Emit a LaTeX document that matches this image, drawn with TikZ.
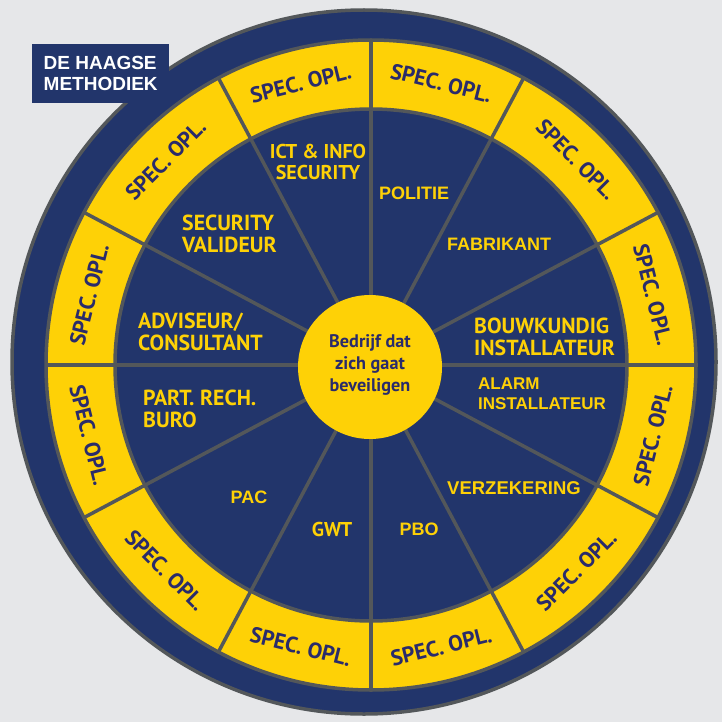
\documentclass[tikz,border=0pt]{standalone}
\usepackage{fontspec}
\newfontfamily\myr{PT Sans}
\newfontfamily\ari{Liberation Sans}
\usetikzlibrary{calc}
\definecolor{bg}{HTML}{E6E7E9}
\definecolor{navy}{HTML}{22356B}
\definecolor{gold}{HTML}{FED106}
\definecolor{rim}{HTML}{53575A}
\definecolor{ink}{HTML}{2A2B6B}
\begin{document}
\begin{tikzpicture}[x=1pt,y=-1pt,
  rimline/.style={draw=rim,line width=3.5pt},
  lblM/.style={text=gold,font=\myr\bfseries\fontsize{20}{21}\selectfont,align=left,inner sep=0pt},
  lblL/.style={text=gold,font=\myr\bfseries\fontsize{21.8}{22}\selectfont,align=left,inner sep=0pt},
  lblA/.style={text=gold,font=\ari\bfseries\fontsize{18}{21}\selectfont,align=left,inner sep=0pt},
  spec/.style={text=ink,font=\myr\bfseries\fontsize{22}{24}\selectfont,inner sep=0pt},
  hub/.style={text=ink,font=\myr\bfseries\fontsize{18.2}{22}\selectfont,align=center,inner sep=0pt},
  titlebox/.style={fill=navy,text=white,font=\ari\bfseries\fontsize{19}{21.5}\selectfont,align=left,
    minimum width=137pt,minimum height=59pt,inner sep=0pt,anchor=north west}
]
\fill[bg] (0,0) rectangle (722,722);
\useasboundingbox (0,0) rectangle (722,722);
\coordinate (O) at (364,362);
\coordinate (C) at (371,365);
% rings
\filldraw[fill=navy,rimline] (O) circle[radius=352pt];
\filldraw[fill=gold,rimline] (C) circle[radius=325pt];
\filldraw[fill=navy,rimline] (C) circle[radius=256pt];
% spokes
\foreach \a [count=\i] in {0,28,62,90,118,152,180,208,242,270,298,332}{
  \coordinate (s\i) at ($(C)+(\a:325pt)$);
  \draw[rimline] (C) -- (s\i);
}
% hub
\node[circle,fill=gold,minimum size=144pt,inner sep=0pt] (hubdisk) at (370,367) {};
\node[hub] (hubtext) at (370,365) {Bedrijf dat\\zich gaat\\beveiligen};
% outer labels
\foreach \m/\r [count=\i] in {14/-76,45/-45,76/-14,104/14,135/45,166/76,194/-76,225/-45,256/-14,284/14,315/45,346/76}
  \node[spec,rotate=\r] (spec\i) at ($(C)+(\m:290.5pt)$) {SPEC. OPL.};
% inner labels
\node[lblM,align=center] (ict) at (318,162) {ICT \& INFO\\SECURITY};
\node[lblL,anchor=west] (secval) at (182,234) {SECURITY\\VALIDEUR};
\node[lblL,anchor=west] (adv) at (138,331.5) {ADVISEUR/\\CONSULTANT};
\node[lblL,anchor=west] (part) at (143,408.5) {PART. RECH.\\BURO};
\node[lblA] (pac) at (249,497) {PAC};
\node[lblM] (gwt) at (332,529) {GWT};
\node[lblA] (pbo) at (419,529) {PBO};
\node[lblA,font=\ari\bfseries\fontsize{18.5}{21}\selectfont] (verz) at (514,488) {VERZEKERING};
\node[lblA,anchor=west,font=\ari\bfseries\fontsize{17}{20}\selectfont] (alarm) at (478,394) {ALARM\\INSTALLATEUR};
\node[lblL,anchor=west] (bouw) at (474,337) {BOUWKUNDIG\\INSTALLATEUR};
\node[lblA] (fabr) at (499,244) {FABRIKANT};
\node[lblA] (pol) at (414,193) {POLITIE};
% title
\node[titlebox] (title) at (32,44) {DE HAAGSE\\METHODIEK};
\end{tikzpicture}
\end{document}
